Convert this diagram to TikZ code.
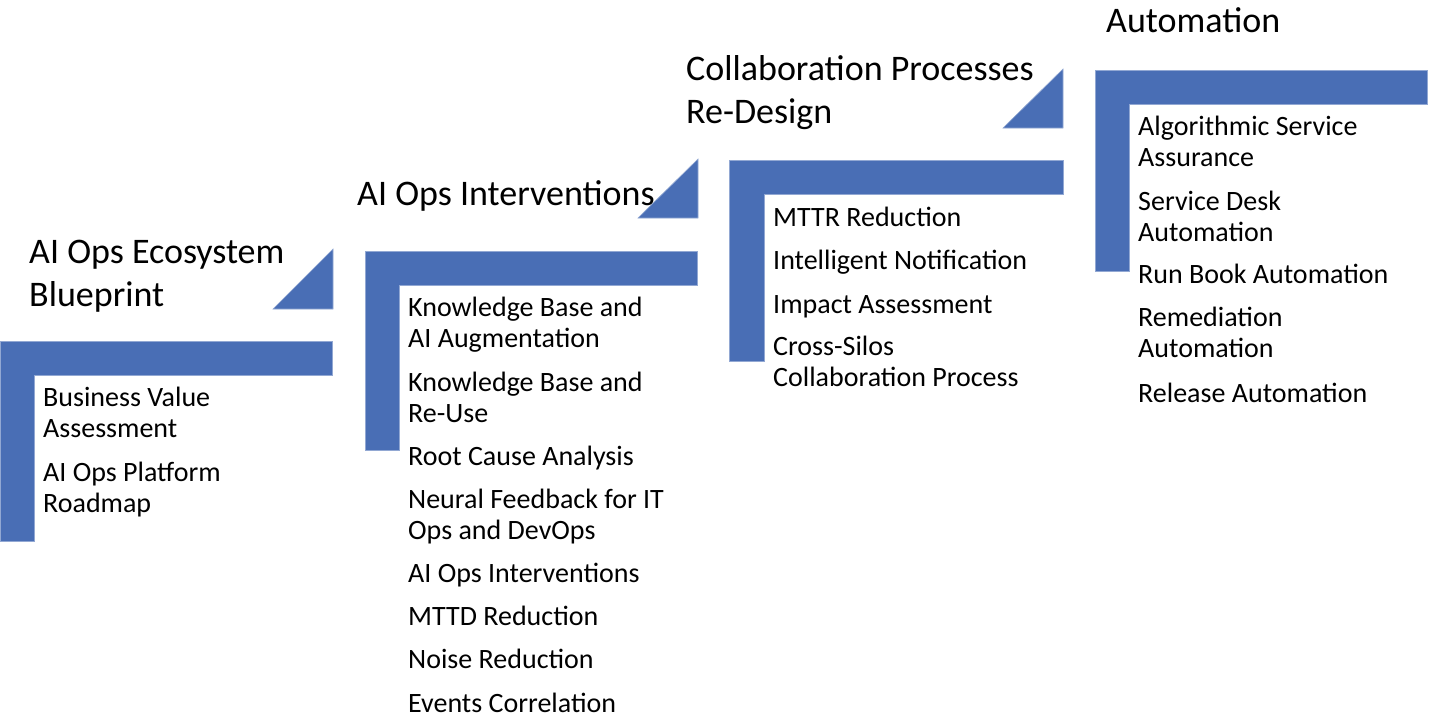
\documentclass[tikz,border=0pt]{standalone}
\usepackage{fontspec}
\setmainfont{Carlito}
\definecolor{stepblue}{RGB}{73,110,181}
\begin{document}
\begin{tikzpicture}[x=1pt,y=-1pt,
  stepbar/.style={fill=stepblue,draw=stepblue!60!white,line width=0.6pt},
  title/.style={anchor=base west,align=left,inner sep=0pt,font=\fontsize{36}{43}\selectfont},
  item/.style={anchor=base west,align=left,inner sep=0pt,font=\fontsize{28}{30.7}\selectfont}]
\useasboundingbox (0,0) rectangle (1429,721);
% step L-shapes
\path[stepbar] (0,341) -- (332,341) -- (332,375) -- (34,375) -- (34,541) -- (0,541) -- cycle;
\path[stepbar] (365,251) -- (697,251) -- (697,285) -- (399,285) -- (399,450) -- (365,450) -- cycle;
\path[stepbar] (729,160) -- (1063,160) -- (1063,194) -- (764,194) -- (764,361) -- (729,361) -- cycle;
\path[stepbar] (1095,70) -- (1427,70) -- (1427,104) -- (1129,104) -- (1129,271) -- (1095,271) -- cycle;
% triangles
\path[stepbar] (273,309) -- (333,309) -- (333,249) -- cycle;
\path[stepbar] (638,218) -- (698,218) -- (698,159) -- cycle;
\path[stepbar] (1003,128) -- (1063,128) -- (1063,69) -- cycle;
% titles (anchor = baseline of last line)
\node[title] (t1) at (29,306) {AI Ops Ecosystem\\Blueprint};
\node[title] (t2) at (357,205) {AI Ops Interventions};
\node[title] (t3) at (686,123) {Collaboration Processes\\Re-Design};
\node[title] (t4) at (1106,32) {Automation};
% step 1 items
\node[item] (a1) at (43,437) {Business Value\\Assessment};
\node[item] (a2) at (43,512) {AI Ops Platform\\Roadmap};
% step 2 items
\node[item] (b1) at (408,347) {Knowledge Base and\\AI Augmentation};
\node[item] (b2) at (408,422) {Knowledge Base and\\Re-Use};
\node[item] (b3) at (408,465) {Root Cause Analysis};
\node[item] (b4) at (408,539) {Neural Feedback for IT\\Ops and DevOps};
\node[item] (b5) at (408,582) {AI Ops Interventions};
\node[item] (b6) at (408,625) {MTTD Reduction};
\node[item] (b7) at (408,668) {Noise Reduction};
\node[item] (b8) at (408,712) {Events Correlation};
% step 3 items
\node[item] (c1) at (773,226) {MTTR Reduction};
\node[item] (c2) at (773,269) {Intelligent Notification};
\node[item] (c3) at (773,313) {Impact Assessment};
\node[item] (c4) at (773,386) {Cross-Silos\\Collaboration Process};
% step 4 items
\node[item] (d1) at (1138,166) {Algorithmic Service\\Assurance};
\node[item] (d2) at (1138,241) {Service Desk\\Automation};
\node[item] (d3) at (1138,283) {Run Book Automation};
\node[item] (d4) at (1138,357) {Remediation\\Automation};
\node[item] (d5) at (1138,402) {Release Automation};
\end{tikzpicture}
\end{document}
